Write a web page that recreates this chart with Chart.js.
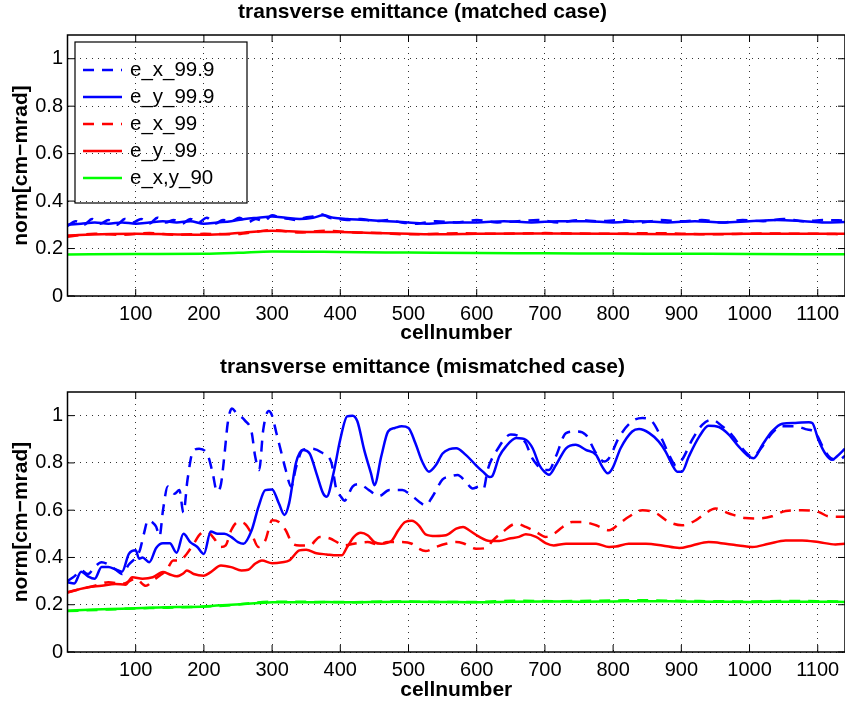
<!DOCTYPE html>
<html>
<head>
<meta charset="utf-8">
<script src="https://cdn.jsdelivr.net/npm/chart.js@4.4.0/dist/chart.umd.min.js"></script>
<style>
html, body { margin: 0; padding: 0; background: #fff; }
canvas { display: block; }
</style>
</head>
<body>
<canvas id="matched" width="845" height="354"></canvas>
<canvas id="mismatched" width="845" height="354"></canvas>
<script>
// transverse emittance, matched and mismatched case

const xTicks = [100, 200, 300, 400, 500, 600, 700, 800, 900, 1000, 1100];
const xTickLabels = ['100', '200', '300', '400', '500', '600', '700', '800', '900', '1000', '1100'];
const yTicks = [0, 0.2, 0.4, 0.6, 0.8, 1];
const yTickLabels = ['0', '0.2', '0.4', '0.6', '0.8', '1'];
const seriesNames = ['e_x_99.9', 'e_y_99.9', 'e_x_99', 'e_y_99', 'e_x,y_90'];

// matched case
const mBlueDashCells = [0, 12, 24, 36, 48, 60, 72, 84, 96, 108, 120, 132, 144, 156, 168, 180, 192, 204, 216, 228,
    240, 252, 264, 276, 288, 300, 312, 324, 336, 348, 360, 372, 384, 396, 410, 430, 450, 470, 490, 510,
    540, 570, 600, 630, 660, 690, 720, 750, 780, 810, 840, 870, 900, 930, 960, 990, 1020, 1050, 1080, 1110, 1140];
const mBlueDashVals = [0.295, 0.315, 0.300, 0.325, 0.305, 0.320, 0.300, 0.325, 0.310, 0.325, 0.305, 0.330, 0.310, 0.320, 0.305, 0.325, 0.310, 0.330, 0.305, 0.320,
    0.315, 0.330, 0.310, 0.325, 0.315, 0.340, 0.330, 0.325, 0.320, 0.330, 0.335, 0.345, 0.330, 0.325, 0.320, 0.325, 0.315, 0.320, 0.310, 0.305,
    0.315, 0.310, 0.320, 0.310, 0.315, 0.320, 0.310, 0.320, 0.315, 0.320, 0.310, 0.320, 0.315, 0.320, 0.310, 0.320, 0.315, 0.325, 0.315, 0.320, 0.318];
const mBlueCells = [0, 20, 40, 60, 80, 100, 120, 140, 160, 180, 200, 220, 240, 260, 280, 300, 320, 340, 360, 375,
    390, 410, 440, 470, 500, 530, 560, 600, 640, 680, 720, 760, 800, 840, 880, 920, 960, 1000, 1040, 1080, 1110, 1140];
const mBlueVals = [0.300, 0.305, 0.31, 0.305, 0.31, 0.305, 0.31, 0.315, 0.31, 0.315, 0.305, 0.31, 0.315, 0.325, 0.33, 0.335, 0.33, 0.325, 0.33, 0.34,
    0.33, 0.325, 0.32, 0.315, 0.31, 0.305, 0.31, 0.31, 0.315, 0.31, 0.315, 0.315, 0.31, 0.315, 0.31, 0.315, 0.31, 0.315, 0.32, 0.315, 0.31, 0.312];
const mRedDashCells = [0, 40, 80, 120, 160, 200, 240, 280, 300, 340, 380, 420, 460, 500, 540, 580, 620, 700, 780, 860, 940, 1020, 1100, 1140];
const mRedDashVals = [0.25, 0.262, 0.258, 0.265, 0.258, 0.262, 0.26, 0.272, 0.278, 0.268, 0.275, 0.268, 0.265, 0.26, 0.262, 0.265, 0.262, 0.265, 0.262, 0.265, 0.26, 0.263, 0.262, 0.26];
const mRedCells = [0, 50, 100, 150, 200, 250, 300, 350, 400, 450, 500, 550, 600, 700, 800, 900, 1000, 1100, 1140];
const mRedVals = [0.255, 0.26, 0.262, 0.26, 0.258, 0.265, 0.275, 0.27, 0.27, 0.265, 0.262, 0.26, 0.262, 0.263, 0.262, 0.26, 0.262, 0.262, 0.262];
const mGreenCells = [0, 100, 200, 250, 300, 350, 400, 500, 600, 700, 800, 900, 1000, 1140];
const mGreenVals = [0.175, 0.177, 0.178, 0.182, 0.188, 0.187, 0.185, 0.183, 0.181, 0.18, 0.179, 0.178, 0.177, 0.176];

// mismatched case
const uBlueDashCells = [0, 10, 20, 30, 40, 50, 60, 70, 80, 90, 100, 106, 112, 118, 124, 130, 135, 140, 147, 157,
    164, 170, 176, 184, 193, 206, 213, 219, 225, 230, 235, 241, 248, 260, 270, 275, 281, 287, 295, 300,
    306, 313, 320, 328, 335, 345, 358, 372, 387, 394, 401, 406, 418, 428, 442, 457, 472, 491, 501, 516,
    525, 535, 550, 560, 572, 584, 594, 604, 610, 616, 631, 650, 660, 672, 680, 689, 699, 706, 716, 731,
    745, 760, 775, 787, 794, 809, 828, 843, 857, 872, 882, 892, 901, 916, 931, 945, 960, 974, 989, 1004,
    1019, 1033, 1048, 1067, 1082, 1097, 1107, 1119, 1131, 1140];
const uBlueDashVals = [0.30, 0.32, 0.345, 0.33, 0.36, 0.38, 0.37, 0.35, 0.33, 0.37, 0.40, 0.43, 0.50, 0.557, 0.55, 0.53, 0.49, 0.60, 0.70, 0.67,
    0.685, 0.59, 0.73, 0.85, 0.86, 0.83, 0.755, 0.68, 0.71, 0.83, 0.97, 1.03, 1.01, 0.98, 0.93, 0.83, 0.77, 0.94, 1.02, 1.0,
    0.93, 0.85, 0.77, 0.70, 0.78, 0.855, 0.86, 0.845, 0.80, 0.69, 0.657, 0.64, 0.70, 0.71, 0.685, 0.66, 0.685, 0.685, 0.67, 0.635,
    0.62, 0.657, 0.73, 0.742, 0.749, 0.72, 0.692, 0.70, 0.69, 0.77, 0.86, 0.92, 0.915, 0.884, 0.827, 0.79, 0.77, 0.77, 0.827, 0.926,
    0.933, 0.919, 0.841, 0.806, 0.82, 0.91, 0.976, 0.99, 0.976, 0.898, 0.834, 0.79, 0.813, 0.898, 0.962, 0.983, 0.955, 0.919, 0.862, 0.827,
    0.87, 0.926, 0.955, 0.955, 0.943, 0.926, 0.87, 0.82, 0.813, 0.83];
const uBlueCells = [0, 10, 20, 30, 40, 50, 60, 70, 80, 90, 100, 105, 110, 120, 130, 140, 150, 160, 170, 180,
    190, 200, 210, 220, 230, 240, 250, 258, 270, 280, 290, 300, 310, 318, 325, 335, 345, 355, 365, 375,
    380, 390, 400, 410, 418, 425, 435, 445, 450, 460, 470, 480, 490, 500, 510, 520, 530, 540, 550, 560,
    570, 584, 599, 609, 619, 623, 633, 643, 658, 672, 682, 692, 699, 706, 716, 731, 745, 760, 775, 784,
    792, 799, 811, 828, 838, 853, 867, 877, 887, 894, 901, 911, 926, 940, 955, 970, 984, 999, 1006, 1019,
    1033, 1048, 1067, 1087, 1092, 1101, 1111, 1121, 1128, 1140];
const uBlueVals = [0.295, 0.29, 0.34, 0.32, 0.31, 0.36, 0.36, 0.35, 0.34, 0.415, 0.43, 0.395, 0.40, 0.38, 0.44, 0.46, 0.46, 0.42, 0.50, 0.465,
    0.445, 0.415, 0.51, 0.50, 0.50, 0.487, 0.465, 0.458, 0.515, 0.614, 0.685, 0.688, 0.628, 0.58, 0.63, 0.80, 0.855, 0.84, 0.756, 0.67,
    0.657, 0.756, 0.90, 0.997, 1.0, 0.976, 0.855, 0.756, 0.706, 0.827, 0.933, 0.948, 0.955, 0.948, 0.884, 0.806, 0.763, 0.79, 0.84, 0.858,
    0.862, 0.834, 0.79, 0.763, 0.74, 0.745, 0.827, 0.87, 0.905, 0.898, 0.862, 0.79, 0.763, 0.75, 0.79, 0.862, 0.877, 0.855, 0.834, 0.784,
    0.756, 0.777, 0.862, 0.933, 0.943, 0.926, 0.89, 0.848, 0.79, 0.763, 0.763, 0.827, 0.91, 0.957, 0.952, 0.919, 0.87, 0.827, 0.82, 0.877,
    0.933, 0.966, 0.969, 0.972, 0.969, 0.898, 0.84, 0.813, 0.827, 0.86];
const uRedDashCells = [0, 20, 40, 60, 80, 100, 115, 125, 135, 145, 155, 165, 175, 185, 195, 205, 215, 225, 232, 240,
    250, 260, 270, 280, 290, 300, 310, 320, 330, 340, 355, 370, 385, 395, 405, 420, 440, 455, 470, 490,
    505, 515, 525, 540, 555, 570, 580, 599, 614, 623, 638, 658, 672, 687, 701, 713, 726, 740, 755, 775,
    794, 809, 823, 843, 862, 882, 901, 921, 935, 950, 970, 994, 1013, 1033, 1053, 1077, 1101, 1116, 1140];
const uRedDashVals = [0.252, 0.267, 0.28, 0.295, 0.288, 0.31, 0.28, 0.302, 0.323, 0.345, 0.387, 0.387, 0.416, 0.458, 0.50, 0.508, 0.48, 0.444, 0.451, 0.515,
    0.55, 0.543, 0.50, 0.444, 0.472, 0.557, 0.55, 0.515, 0.458, 0.451, 0.451, 0.487, 0.48, 0.465, 0.451, 0.458, 0.465, 0.455, 0.465, 0.465,
    0.458, 0.437, 0.427, 0.444, 0.458, 0.465, 0.46, 0.437, 0.44, 0.47, 0.508, 0.543, 0.529, 0.508, 0.487, 0.50, 0.529, 0.55, 0.55, 0.536,
    0.515, 0.543, 0.572, 0.60, 0.589, 0.55, 0.536, 0.557, 0.586, 0.607, 0.586, 0.567, 0.565, 0.574, 0.597, 0.60, 0.593, 0.574, 0.572];
const uRedCells = [0, 10, 30, 50, 70, 85, 95, 110, 125, 140, 150, 160, 170, 175, 185, 200, 210, 225, 240, 255,
    265, 275, 285, 300, 315, 325, 340, 350, 365, 380, 395, 402, 410, 420, 430, 440, 450, 460, 475, 485,
    495, 505, 515, 525, 540, 555, 570, 580, 589, 604, 619, 633, 648, 662, 672, 687, 701, 713, 731, 750,
    775, 794, 804, 823, 848, 872, 897, 916, 940, 965, 984, 1004, 1028, 1053, 1077, 1101, 1126, 1140];
const uRedVals = [0.252, 0.26, 0.274, 0.28, 0.288, 0.285, 0.316, 0.31, 0.316, 0.338, 0.328, 0.32, 0.333, 0.345, 0.33, 0.323, 0.338, 0.366, 0.359, 0.345,
    0.348, 0.373, 0.387, 0.376, 0.38, 0.387, 0.43, 0.433, 0.418, 0.413, 0.409, 0.409, 0.444, 0.487, 0.504, 0.494, 0.465, 0.458, 0.47, 0.515,
    0.55, 0.555, 0.536, 0.498, 0.491, 0.494, 0.522, 0.529, 0.515, 0.487, 0.47, 0.47, 0.48, 0.487, 0.498, 0.487, 0.461, 0.451, 0.458, 0.458,
    0.458, 0.444, 0.446, 0.458, 0.458, 0.451, 0.44, 0.451, 0.465, 0.458, 0.451, 0.444, 0.458, 0.472, 0.472, 0.465, 0.455, 0.458];
const uGreenDashCells = [0, 60, 120, 180, 240, 300, 360, 420, 480, 540, 600, 660, 720, 780, 840, 880, 940, 1000, 1060, 1100, 1140];
const uGreenDashVals = [0.173, 0.18, 0.186, 0.19, 0.198, 0.213, 0.212, 0.211, 0.214, 0.212, 0.212, 0.217, 0.215, 0.217, 0.219, 0.217, 0.215, 0.214, 0.216, 0.215, 0.213];
const uGreenCells = [0, 40, 80, 120, 160, 200, 240, 280, 300, 340, 380, 420, 460, 500, 550, 600, 650, 700, 750, 800, 850, 900, 950, 1000, 1050, 1100, 1140];
const uGreenVals = [0.175, 0.18, 0.183, 0.187, 0.19, 0.193, 0.2, 0.207, 0.211, 0.21, 0.212, 0.21, 0.212, 0.213, 0.212, 0.21, 0.213, 0.214, 0.213, 0.214, 0.215, 0.214, 0.213, 0.212, 0.213, 0.213, 0.212];

const FONT = "'Liberation Sans', Arial, Helvetica, sans-serif";
Chart.defaults.font.family = FONT;
Chart.defaults.color = '#000';

function series(cells, vals, color, dashed, name) {
    return {
        label: name || '',
        legendText: name,
        data: cells.map((c, i) => ({x: c, y: vals[i]})),
        borderColor: color,
        backgroundColor: color,
        borderWidth: 2.5,
        borderDash: dashed ? [11, 8] : [],
        pointRadius: 0,
        cubicInterpolationMode: 'monotone',
        fill: false
    };
}

// box round the axes with inward ticks on all four sides
const frame = {
    id: 'frame',
    afterDatasetsDraw(chart) {
        const {ctx, chartArea: a, scales: {x, y}} = chart;
        ctx.save();
        ctx.strokeStyle = '#000';
        ctx.lineWidth = 1.5;
        ctx.strokeRect(a.left, a.top, a.right - a.left, a.bottom - a.top);
        ctx.lineWidth = 1;
        ctx.beginPath();
        x.ticks.forEach(t => {
            const px = x.getPixelForValue(t.value);
            ctx.moveTo(px, a.bottom); ctx.lineTo(px, a.bottom - 7);
            ctx.moveTo(px, a.top); ctx.lineTo(px, a.top + 7);
        });
        y.ticks.forEach(t => {
            const py = y.getPixelForValue(t.value);
            ctx.moveTo(a.left, py); ctx.lineTo(a.left + 7, py);
            ctx.moveTo(a.right, py); ctx.lineTo(a.right - 7, py);
        });
        ctx.stroke();
        ctx.restore();
    }
};

// MATLAB style legend box in the upper left corner
const legendBox = {
    id: 'legendBox',
    afterDatasetsDraw(chart) {
        const {ctx, chartArea: a} = chart;
        const x0 = a.left + 7.5, y0 = a.top + 7;
        ctx.save();
        ctx.strokeStyle = '#000';
        ctx.lineWidth = 1.2;
        ctx.strokeRect(x0, y0, 172, 161);
        ctx.font = '20.5px ' + FONT;
        ctx.textBaseline = 'middle';
        ctx.fillStyle = '#000';
        const items = chart.data.datasets.filter(ds => ds.legendText);
        items.forEach((ds, i) => {
            const ry = y0 + 28 + i * 27;
            ctx.strokeStyle = ds.borderColor;
            ctx.lineWidth = 2.5;
            ctx.setLineDash(ds.borderDash);
            ctx.beginPath();
            ctx.moveTo(x0 + 8, ry);
            ctx.lineTo(x0 + 47, ry);
            ctx.stroke();
            ctx.setLineDash([]);
            ctx.fillText(ds.legendText, x0 + 55, ry);
        });
        ctx.restore();
    }
};

function make_chart(id, title, datasets, lay, extra) {
    const canvas = document.getElementById(id);
    return new Chart(canvas.getContext('2d'), {
        type: 'line',
        data: {datasets: datasets},
        plugins: [frame].concat(extra),
        options: {
            responsive: false,
            animation: false,
            devicePixelRatio: 1,
            layout: {padding: 0},
            plugins: {
                legend: {display: false},
                tooltip: {enabled: false},
                title: {
                    display: true,
                    text: title,
                    color: '#000',
                    font: {size: 21, weight: 'bold'},
                    padding: {top: lay.titleTop, bottom: lay.titleBottom}
                }
            },
            scales: {
                x: {
                    type: 'linear',
                    min: 0,
                    max: 1140,
                    afterBuildTicks: s => { s.ticks = xTicks.map(v => ({value: v})); },
                    afterFit: s => {
                        s.height = lay.xHeight;
                        s.paddingLeft = 0; s.paddingRight = 0;
                        s.paddingTop = 0; s.paddingBottom = 0;
                    },
                    grid: {color: 'rgba(0,0,0,0.8)', lineWidth: 1, drawTicks: false},
                    border: {display: false, dash: [1, 5]},
                    ticks: {
                        padding: 6.5,
                        autoSkip: false,
                        maxRotation: 0,
                        color: '#000',
                        font: {size: 20},
                        callback: (v, i) => xTickLabels[i]
                    },
                    title: {
                        display: true,
                        text: 'cellnumber',
                        color: '#000',
                        font: {size: 21, weight: 'bold'},
                        padding: {top: 0, bottom: lay.xTitleBottom}
                    }
                },
                y: {
                    min: 0,
                    max: 1.1,
                    afterBuildTicks: s => { s.ticks = yTicks.map(v => ({value: v})); },
                    afterFit: s => {
                        s.width = 67.5;
                        s.paddingLeft = 0; s.paddingRight = 0;
                        s.paddingTop = 0; s.paddingBottom = 0;
                    },
                    grid: {color: 'rgba(0,0,0,0.8)', lineWidth: 1, drawTicks: false},
                    border: {display: false, dash: [1, 5]},
                    ticks: {
                        padding: 4.5,
                        color: '#000',
                        font: {size: 20},
                        callback: (v, i) => yTickLabels[i]
                    },
                    title: {
                        display: true,
                        text: 'norm[cm\u2212mrad]',
                        color: '#000',
                        font: {size: 21, weight: 'bold'},
                        padding: {top: 9, bottom: 0}
                    }
                }
            }
        }
    });
}

make_chart('matched', 'transverse emittance (matched case)', [
    series(mBlueDashCells, mBlueDashVals, '#0000ff', true, seriesNames[0]),
    series(mBlueCells, mBlueVals, '#0000ff', false, seriesNames[1]),
    series(mRedDashCells, mRedDashVals, '#ff0000', true, seriesNames[2]),
    series(mRedCells, mRedVals, '#ff0000', false, seriesNames[3]),
    series(mGreenCells, mGreenVals, '#00ff00', false, seriesNames[4])
], {titleTop: 0, titleBottom: 9.8, xHeight: 58, xTitleBottom: 8.4}, [legendBox]);

make_chart('mismatched', 'transverse emittance (mismatched case)', [
    series(uBlueDashCells, uBlueDashVals, '#0000ff', true),
    series(uBlueCells, uBlueVals, '#0000ff', false),
    series(uRedDashCells, uRedDashVals, '#ff0000', true),
    series(uRedCells, uRedVals, '#ff0000', false),
    series(uGreenDashCells, uGreenDashVals, '#00ff00', true),
    series(uGreenCells, uGreenVals, '#00ff00', false)
], {titleTop: 0.4, titleBottom: 12.4, xHeight: 56, xTitleBottom: 5.4}, []);
</script>
</body>
</html>
